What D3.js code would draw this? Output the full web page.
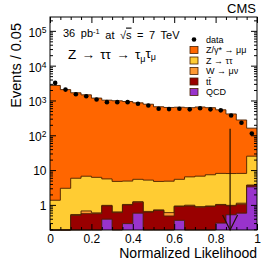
<!DOCTYPE html>
<html>
<head>
<meta charset="utf-8">
<script src="https://cdn.jsdelivr.net/npm/d3@7"></script>
<style>
  body { margin: 0; background: #fff; }
  text { font-family: "Liberation Sans", Arial, sans-serif; }
</style>
</head>
<body>
<div id="chart"></div>
<script>
// 20 bins of width 0.05 in the normalized likelihood
var binEdges = d3.range(0, 1.0001, 0.05);

// stacked backgrounds, bottom to top
var qcd     = [0, 0, 0, 0, 0, 0.39, 0, 0.29, 0.58, 0, 0, 0, 0.36, 0, 0, 0, 0.30, 0.52, 0.58, 3.3];
var ttbar   = [0, 0, 0.50, 0.56, 0.56, 0.55, 0.60, 0.71, 0.62, 0.62, 0.69, 0.48, 0.54, 0.93, 0.86, 0.90, 0.70, 0.42, 0.47, 0.35];
var wmunu   = [0, 0, 0.03, 0.11, 0.03, 0.03, 0.03, 0.03, 0.03, 0.03, 0.03, 0.12, 0.03, 0.05, 0.03, 0.03, 0.03, 0.03, 0.07, 0.05];
var ztautau = [1.36, 3.0, 5.3, 6.0, 5.6, 4.6, 4.1, 3.8, 4.2, 4.5, 4.0, 4.2, 4.5, 5.4, 5.8, 6.4, 7.0, 7.0, 6.9, 21.4];
var zmumu   = [2700, 2047, 1654, 1443, 1164, 1014, 975, 930, 850, 775, 655, 625, 635, 614, 643, 613, 532, 402, 267, 135];

var dataPts = [3200, 2050, 1510, 1320, 1070, 894, 895, 895, 804, 720, 580, 565, 580, 555, 600, 555, 520, 370, 230, 112];

var cutValue = 0.87, cutTop = 155;

var xTicks = [0, 0.2, 0.4, 0.6, 0.8, 1];
var xTickLabels = ["0", "0.2", "0.4", "0.6", "0.8", "1"];
var yTicks = [1, 10, 100, 1000, 10000, 100000];
var yTickLabels = [["1", ""], ["10", ""], ["10", "2"], ["10", "3"], ["10", "4"], ["10", "5"]];

var layers = [
    {name: "QCD",       vals: qcd,     color: "#9933cc"},
    {name: "t\u0074\u0304", vals: ttbar, color: "#990000"},
    {name: "W \u2192 \u03bc\u03bd", vals: wmunu, color: "#ff9933"},
    {name: "Z \u2192 \u03c4\u03c4", vals: ztautau, color: "#ffcc33"},
    {name: "Z/\u03b3* \u2192 \u03bc\u03bc", vals: zmumu, color: "#ff6600"}
];

var W = 276, H = 265;
var pL = 50, pR = 257, pT = 17, pB = 230;
var yMin = 0.19, yMax = 2.5e5;

var svg = d3.select("#chart").append("svg")
    .attr("width", W)
    .attr("height", H);

var x = d3.scaleLinear().domain([0, 1]).range([pL, pR]);
var y = d3.scaleLog().domain([yMin, yMax]).range([pB, pT]).clamp(true);

// cumulative sums for the stack
var cum = [];
layers.forEach(function(l, k) {
    cum[k] = l.vals.map(function(v, i) { return v + (k > 0 ? cum[k - 1][i] : 0); });
});

function stepPoints(vals) {
    var pts = vals.map(function(v, i) { return [binEdges[i], v]; });
    pts.push([1, vals[vals.length - 1]]);
    return pts;
}

var area = d3.area()
    .curve(d3.curveStepAfter)
    .x(function(d) { return x(d[0]); })
    .y0(pB)
    .y1(function(d) { return y(Math.max(d[1], yMin)); });

var line = d3.line()
    .curve(d3.curveStepAfter)
    .x(function(d) { return x(d[0]); })
    .y(function(d) { return y(Math.max(d[1], yMin)); });

// draw from the full stack down, so each lower layer covers the one above
for (var k = layers.length - 1; k >= 0; k--) {
    var pts = stepPoints(cum[k]);
    svg.append("path")
        .attr("d", area(pts))
        .attr("fill", layers[k].color);
    svg.append("path")
        .attr("d", line(pts))
        .attr("fill", "none")
        .attr("stroke", "#4a2000")
        .attr("stroke-width", 0.9);
}

// data points
svg.selectAll("circle.data")
    .data(dataPts)
    .enter().append("circle")
    .attr("class", "data")
    .attr("cx", function(d, i) { return x(binEdges[i] + 0.025); })
    .attr("cy", function(d) { return y(d); })
    .attr("r", 2.3)
    .attr("fill", "#000");

// cut arrow
svg.append("line")
    .attr("x1", x(cutValue)).attr("x2", x(cutValue))
    .attr("y1", y(cutTop)).attr("y2", pB)
    .attr("stroke", "#221100").attr("stroke-width", 1.2);
svg.append("path")
    .attr("d", "M" + (x(cutValue) - 7.5) + "," + (pB - 15) + "L" + x(cutValue) + "," + pB +
               "L" + (x(cutValue) + 7.5) + "," + (pB - 15))
    .attr("fill", "none")
    .attr("stroke", "#221100").attr("stroke-width", 1.2);

// axes, ticks pointing inwards on all four sides
var xMinor = d3.range(0, 1.0001, 0.05).filter(function(v) { return Math.abs(v * 5 - Math.round(v * 5)) > 1e-6; });
var yMinor = [];
[0.1, 1, 10, 100, 1000, 10000, 100000].forEach(function(dec) {
    for (var m = 2; m <= 9; m++) {
        var v = dec * m;
        if (v > yMin && v < yMax) yMinor.push(v);
    }
});

svg.append("g")
    .attr("transform", "translate(0," + pB + ")")
    .call(d3.axisBottom(x).tickValues(xTicks).tickSize(-6).tickPadding(4)
        .tickFormat(function(d, i) { return xTickLabels[i]; }))
    .call(function(g) { g.select(".domain").remove(); })
    .selectAll("text").style("font-size", "12px").attr("fill", "#000");
svg.append("g")
    .attr("transform", "translate(0," + pB + ")")
    .call(d3.axisBottom(x).tickValues(xMinor).tickSize(-3).tickFormat(""))
    .call(function(g) { g.select(".domain").remove(); });
svg.append("g")
    .attr("transform", "translate(0," + pT + ")")
    .call(d3.axisTop(x).tickValues(xTicks).tickSize(-6).tickFormat(""))
    .call(function(g) { g.select(".domain").remove(); });
svg.append("g")
    .attr("transform", "translate(0," + pT + ")")
    .call(d3.axisTop(x).tickValues(xMinor).tickSize(-3).tickFormat(""))
    .call(function(g) { g.select(".domain").remove(); });

var yAxis = svg.append("g")
    .attr("transform", "translate(" + pL + ",0)")
    .call(d3.axisLeft(y).tickValues(yTicks).tickSize(-6).tickPadding(3.5).tickFormat(""));
yAxis.select(".domain").remove();
yAxis.selectAll(".tick text")
    .style("font-size", "12px")
    .attr("fill", "#000")
    .each(function(d, i) {
        var t = d3.select(this), lab = yTickLabels[i];
        t.attr("dy", lab[1] ? "0.45em" : "0.35em");
        t.append("tspan").text(lab[0]);
        if (lab[1]) t.append("tspan").attr("dy", "-0.45em").style("font-size", "8.5px").text(lab[1]);
    });
svg.append("g")
    .attr("transform", "translate(" + pL + ",0)")
    .call(d3.axisLeft(y).tickValues(yMinor).tickSize(-3).tickFormat(""))
    .call(function(g) { g.select(".domain").remove(); });
svg.append("g")
    .attr("transform", "translate(" + pR + ",0)")
    .call(d3.axisRight(y).tickValues(yTicks).tickSize(-6).tickFormat(""))
    .call(function(g) { g.select(".domain").remove(); });
svg.append("g")
    .attr("transform", "translate(" + pR + ",0)")
    .call(d3.axisRight(y).tickValues(yMinor).tickSize(-3).tickFormat(""))
    .call(function(g) { g.select(".domain").remove(); });

// frame
svg.append("rect")
    .attr("x", pL).attr("y", pT)
    .attr("width", pR - pL).attr("height", pB - pT)
    .attr("fill", "none").attr("stroke", "#000").attr("stroke-width", 1);

// titles
svg.append("text")
    .attr("x", pR).attr("y", 258)
    .attr("text-anchor", "end")
    .style("font-size", "14px")
    .text("Normalized Likelihood");
svg.append("text")
    .attr("transform", "translate(21," + 23 + ") rotate(-90)")
    .attr("text-anchor", "end")
    .style("font-size", "14.5px")
    .text("Events / 0.05");
svg.append("text")
    .attr("x", 256).attr("y", 13)
    .attr("text-anchor", "end")
    .style("font-size", "13px")
    .text("CMS");

var lumi = svg.append("text")
    .attr("x", 63).attr("y", 37)
    .style("font-size", "11px")
    .style("word-spacing", "2.5px");
lumi.append("tspan").text("36 pb");
lumi.append("tspan").attr("dy", "-0.45em").style("font-size", "7.5px").text("-1");
lumi.append("tspan").attr("dy", "0.45em").text(" at \u221a");
lumi.append("tspan").style("text-decoration", "overline").text("s");
lumi.append("tspan").text(" = 7 TeV");

var proc = svg.append("text")
    .attr("x", 68).attr("y", 59)
    .style("font-size", "13.5px")
    .style("word-spacing", "1.5px");
proc.append("tspan").text("Z \u2192 \u03c4\u03c4 \u2192 \u03c4");
proc.append("tspan").attr("dy", "0.3em").style("font-size", "9px").text("\u03bc");
proc.append("tspan").attr("dy", "-0.3em").text("\u03c4");
proc.append("tspan").attr("dy", "0.3em").style("font-size", "9px").text("\u03bc");

// legend
var legY0 = 39.5, legStep = 10.5;
var leg = svg.append("g");
leg.append("circle")
    .attr("cx", 194).attr("cy", legY0).attr("r", 2.3).attr("fill", "#000");
leg.append("text")
    .attr("x", 206).attr("y", legY0 + 3)
    .style("font-size", "9px")
    .text("data");
layers.slice().reverse().forEach(function(l, i) {
    var cy = legY0 + legStep * (i + 1);
    leg.append("rect")
        .attr("x", 190).attr("y", cy - 3.5)
        .attr("width", 8).attr("height", 7)
        .attr("fill", l.color)
        .attr("stroke", "#4a2000").attr("stroke-width", 0.8);
    leg.append("text")
        .attr("x", 206).attr("y", cy + 3)
        .style("font-size", "9px")
        .text(l.name);
});
</script>
</body>
</html>
